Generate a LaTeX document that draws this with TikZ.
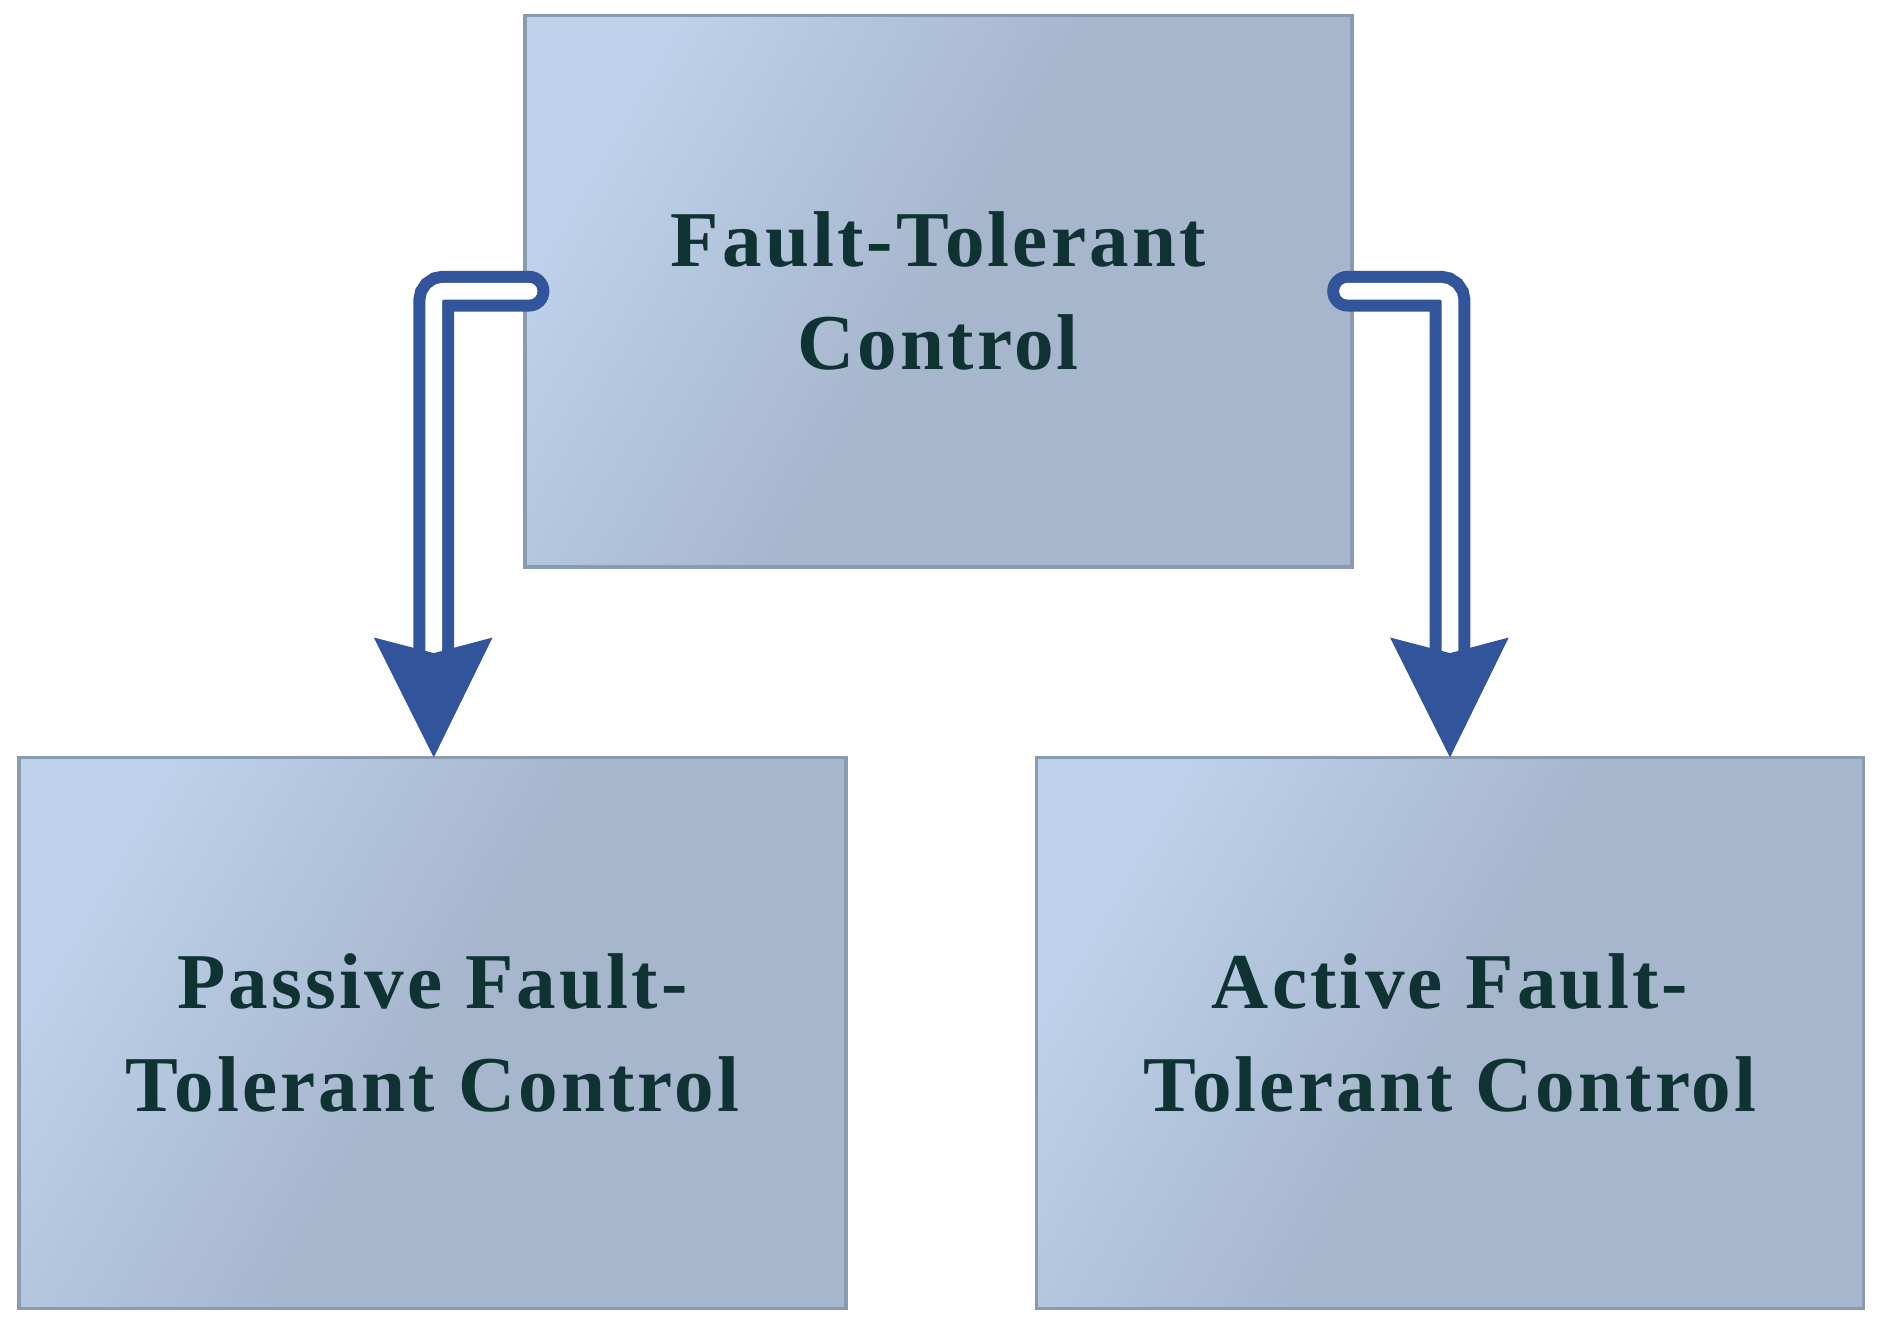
\documentclass[tikz,border=0pt]{standalone}
\usepackage{fontspec}
\setmainfont{Liberation Serif}[LetterSpace=4]
\definecolor{boxlight}{HTML}{BDD1EA}
\definecolor{boxdark}{HTML}{A6B6CD}
\definecolor{boxedge}{HTML}{8A9AB0}
\definecolor{arr}{HTML}{31549A}
\definecolor{txt}{HTML}{0F3333}
\begin{document}
\begin{tikzpicture}[x=1pt,y=-1pt,
  box/.style={draw=boxedge,line width=3pt,left color=boxlight,right color=boxdark,middle color=boxdark,shading angle=60,
    minimum width=690pt,minimum height=460pt,inner sep=0pt,align=center,
    text=txt,font=\fontsize{66}{86}\selectfont\bfseries},
  conn/.style={draw=arr,line width=10pt,double=white,double distance=14pt,rounded corners=8pt,line cap=round},
  tip/.style={fill=arr}]
\useasboundingbox (0,0) rectangle (1568,1112);
\node[box] (top) at (783,243) {Fault-Tolerant\\Control};
\node[box] (pas) at (361,862) {Passive Fault-\\Tolerant Control};
\node[box] (act) at (1210,862) {Active Fault-\\Tolerant Control};
\coordinate (lt) at (362,632);
\coordinate (rt) at (1210,632);
\draw[conn] ([xshift=5pt]top.west) -- (362,243) -- (362,545);
\draw[conn] ([xshift=-5pt]top.east) -- (1210,243) -- (1210,545);
\fill[tip] (312,532) -- (362,545) -- (411,532) -- (lt) -- cycle;
\fill[tip] (1160,532) -- (1210,545) -- (1259,532) -- (rt) -- cycle;
\end{tikzpicture}
\end{document}
